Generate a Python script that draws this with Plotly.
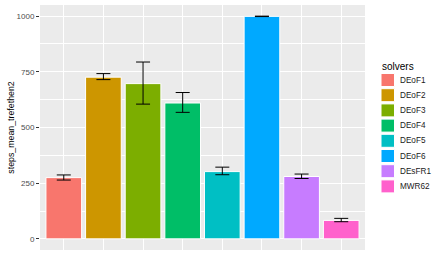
import plotly.graph_objects as go

solvers = ["DEoF1", "DEoF2", "DEoF3", "DEoF4", "DEoF5", "DEoF6", "DEsFR1", "MWR62"]
steps_mean = [275, 726, 697, 610, 302, 999, 280, 83]
err_upper = [287, 742, 794, 657, 322, 1000, 291, 92]
err_lower = [264, 715, 605, 568, 288, 998, 271, 77]
colors = ["#F8766D", "#CD9600", "#7CAE00", "#00BE67", "#00BFC4", "#00A9FF", "#C77CFF", "#FF61CC"]
y_ticks = [0, 250, 500, 750, 1000]

FONT = "Liberation Sans, Arial, sans-serif"
W, H = 436, 258
L, R, T, B = 40, 71, 5, 8
PW, PH = W - L - R, H - T - B

fig = go.Figure()
fig.add_trace(go.Bar(
    x=solvers, y=steps_mean,
    marker=dict(color=colors, line=dict(color="white", width=1)),
    width=0.9,
    error_y=dict(type="data", symmetric=False,
                 array=[u - m for u, m in zip(err_upper, steps_mean)],
                 arrayminus=[m - l for m, l in zip(steps_mean, err_lower)],
                 color="black", thickness=1, width=7),
    showlegend=False,
    hoverinfo="skip",
))

# manual ggplot-style legend
def px(xp):
    return (xp - L) / PW

def py(yp):
    return (H - B - yp) / PH

shapes = []
annotations = [dict(x=px(380), y=py(66), xref="paper", yref="paper", text="solvers",
                    showarrow=False, xanchor="left", yanchor="middle",
                    font=dict(family=FONT, size=10, color="black"))]
for i, (name, c) in enumerate(zip(solvers, colors)):
    cy = 80 + i * 15.2
    shapes.append(dict(type="rect", xref="paper", yref="paper",
                       x0=px(381), x1=px(394.5), y0=py(cy - 6.5), y1=py(cy + 6.5),
                       fillcolor=c, line=dict(color="white", width=1)))
    annotations.append(dict(x=px(397.5), y=py(cy), xref="paper", yref="paper", text=name,
                            showarrow=False, xanchor="left", yanchor="middle",
                            font=dict(family=FONT, size=8.2, color="#1a1a1a")))

fig.update_layout(
    width=W, height=H,
    margin=dict(l=L, r=R, t=T, b=B, pad=0),
    paper_bgcolor="white", plot_bgcolor="#EBEBEB",
    bargap=0.1,
    font=dict(family=FONT, size=8, color="#4D4D4D"),
    shapes=shapes, annotations=annotations,
    xaxis=dict(range=[-0.6, 7.6], showticklabels=False, ticks="",
               showgrid=True, gridcolor="white", gridwidth=1, zeroline=False,
               showline=False),
    yaxis=dict(range=[-50, 1050], tickvals=y_ticks, ticktext=[str(v) for v in y_ticks],
               ticks="outside", ticklen=3, tickcolor="#333333", tickwidth=1,
               tickfont=dict(family=FONT, size=8, color="#4D4D4D"),
               showgrid=True, gridcolor="white", gridwidth=1, zeroline=False,
               minor=dict(tickvals=[125, 375, 625, 875], showgrid=True,
                          gridcolor="white", gridwidth=0.5, ticks=""),
               title=dict(text="steps_mean_trefethen2", standoff=0,
                          font=dict(family=FONT, size=8.8, color="black"))),
)

fig.write_html("out.html", config={"displayModeBar": False},
               post_script="document.body.style.margin='0';")
